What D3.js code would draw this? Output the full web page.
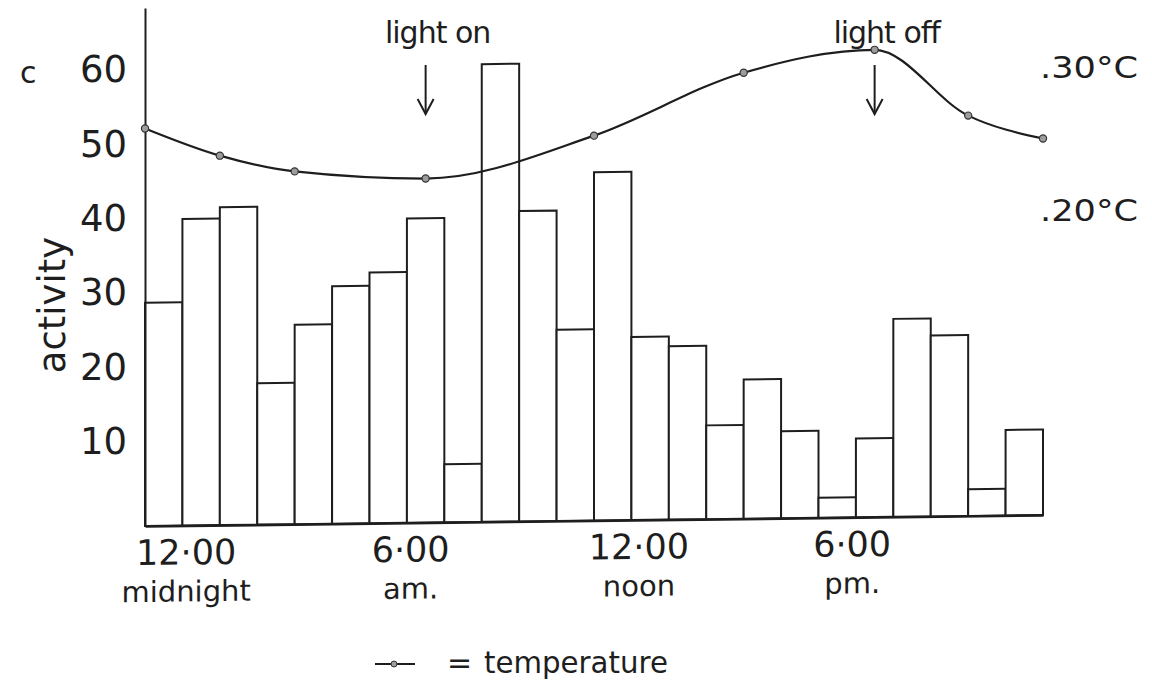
<!DOCTYPE html>
<html><head><meta charset="utf-8">
<script src="https://cdn.jsdelivr.net/npm/d3@7"></script>
<style>
body{margin:0;background:#fff;}
svg text{font-family:"DejaVu Sans",sans-serif;fill:#1e1e1e;}
</style></head><body>
<svg id="chart" width="1152" height="682"></svg>
<script>
// ---- data ----
const hourStarts = [0,1,2,3,4,5,6,7,8,9,10,11,12,13,14,15,16,17,18,19,20,21,22,23];
const activity = [28.7,39.9,41.4,17.7,25.5,30.6,32.4,39.6,6.5,60.2,40.4,24.4,45.5,23.3,22.0,11.3,17.4,10.4,1.4,9.3,25.3,23.0,2.3,10.2];
const tempHours = [0,2,4,7.5,12,16,19.5,22,24];
const tempValues = [25.7,23.8,22.7,22.2,25.2,29.6,31.2,26.6,25.0];
const yTicks = [10,20,30,40,50,60];
const tempTicks = [20,30];
const xTickHours = [1.1,7.1,13.2,18.9];
const xTickTimes = ["12·00","6·00","12·00","6·00"];
const xTickPeriods = ["midnight","am.","noon","pm."];
const lightHours = [7.5,19.5];
const lightLabels = ["light on","light off"];

// ---- layout ----
const svg = d3.select("#chart");
const L = 145, R = 1043, B = 526, T = 8;
const x = d3.scaleLinear().domain([0,24]).range([L,R]);
const y = d3.scaleLinear().domain([-1.3,68.3]).range([B,T]);
const tY = d3.scaleLinear().domain([20,30]).range([210,67]);
const ink = "#1e1e1e";

// baseline of the scanned page slopes slightly upward to the right
const frame = svg.append("g").attr("transform",`translate(${L},${B}) skewY(-0.7) translate(${-L},${-B})`);

frame.append("g").selectAll("rect").data(hourStarts).join("rect")
  .attr("x",h=>x(h)).attr("width",h=>x(h+1)-x(h))
  .attr("y",(h,i)=>y(activity[i])).attr("height",(h,i)=>y(y.domain()[0])-y(activity[i]))
  .attr("fill","#fff").attr("stroke",ink).attr("stroke-width",2);

const yAx = svg.append("g").attr("transform",`translate(${L},0)`)
  .call(d3.axisLeft(y).tickValues(yTicks).tickSize(0).tickPadding(18).tickFormat(d3.format("d")));
yAx.select(".domain").attr("stroke",ink).attr("stroke-width",2);
yAx.selectAll("text").style("font-size","37px").attr("fill",ink);

const xAx = frame.append("g").attr("transform",`translate(0,${B})`)
  .call(d3.axisBottom(x).tickValues([]).tickSizeOuter(0));
xAx.select(".domain").attr("stroke",ink).attr("stroke-width",2.5);

frame.append("g").selectAll("text").data(xTickHours).join("text")
  .attr("x",h=>x(h)).attr("y",B+39).attr("text-anchor","middle")
  .style("font-size","35px").text((h,i)=>xTickTimes[i]);
frame.append("g").selectAll("text").data(xTickHours).join("text")
  .attr("x",h=>x(h)).attr("y",B+76).attr("text-anchor","middle")
  .style("font-size","29px").text((h,i)=>xTickPeriods[i]);

// y title and panel letter
svg.append("text").attr("transform","translate(65,305) rotate(-90)")
  .attr("text-anchor","middle").style("font-size","37px").text("activity");
svg.append("text").attr("x",20).attr("y",83).style("font-size","30px").text("c");

// temperature line
svg.append("path").datum(tempHours)
  .attr("d",d3.line().x(h=>x(h)).y((h,i)=>tY(tempValues[i])).curve(d3.curveMonotoneX))
  .attr("fill","none").attr("stroke",ink).attr("stroke-width",2.2);
svg.append("g").selectAll("circle").data(tempHours).join("circle")
  .attr("cx",h=>x(h)).attr("cy",(h,i)=>tY(tempValues[i])).attr("r",3.6)
  .attr("fill","#9c9c9c").attr("stroke","#333").attr("stroke-width",1.2);

// temperature labels
svg.append("g").selectAll("text").data(tempTicks).join("text")
  .attr("x",1040).attr("y",d=>tY(d)).attr("dominant-baseline","central")
  .attr("textLength",98).attr("lengthAdjust","spacingAndGlyphs")
  .style("font-size","31px").text(d=>"."+d+"°C");

// light on / off annotations
const ann = svg.append("g").selectAll("g").data(lightHours).join("g")
  .attr("transform",h=>`translate(${x(h)},0)`);
ann.append("line").attr("y1",65).attr("y2",114).attr("stroke",ink).attr("stroke-width",2);
ann.append("path").attr("d","M-8,99 L0,114 L8,99").attr("fill","none").attr("stroke",ink).attr("stroke-width",2);
ann.append("text").attr("x",12).attr("y",43).attr("text-anchor","middle")
  .style("font-size","30px").style("letter-spacing","-1px").text((h,i)=>lightLabels[i]);

// legend
const lg = svg.append("g");
lg.append("line").attr("x1",375).attr("x2",415).attr("y1",664).attr("y2",664).attr("stroke",ink).attr("stroke-width",2);
lg.append("circle").attr("cx",394).attr("cy",664).attr("r",3).attr("fill","#9c9c9c").attr("stroke","#333");
lg.append("text").attr("x",447).attr("y",673).style("font-size","30px").text("=");
lg.append("text").attr("x",484).attr("y",673).attr("textLength",184).attr("lengthAdjust","spacingAndGlyphs")
  .style("font-size","30px").text("temperature");
</script></body></html>
